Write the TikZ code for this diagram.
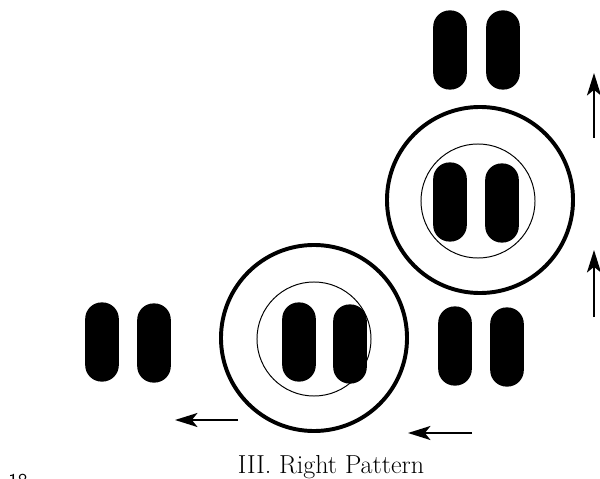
\documentclass[tikz,border=0pt]{standalone}
\usetikzlibrary{positioning,arrows.meta}

\begin{document}
\begin{tikzpicture}[x=0.025cm, y=-0.025cm,
  pill/.style={fill=black, draw=none, rounded corners=0.41cm,
               minimum width=0.84cm, minimum height=1.98cm, inner sep=0pt},
  ring/.style={circle, draw, line width=2.8pt, minimum size=4.65cm, inner sep=0pt},
  core/.style={circle, draw, line width=0.7pt, minimum size=2.85cm, inner sep=0pt},
  arr/.style={-{Stealth[length=16pt, width=10pt, inset=4pt]}, line width=1.1pt},
]
\useasboundingbox (0,0) rectangle (600,479);
\clip (0,0) rectangle (600,479);
% upper group
\node[pill] (topL) at (450,50) {};
\node[pill] (topR) at (503,50) {};
\node[ring] (ringU) at (480,200) {};
\node[core] (coreU) at (478,201) {};
\node[pill] (inUL) at (450,202) {};
\node[pill] (inUR) at (502,203) {};
% lower group
\node[pill] (leftL) at (102,342) {};
\node[pill] (leftR) at (154,343) {};
\node[ring] (ringD) at (314,338) {};
\node[core] (coreD) at (314,339) {};
\node[pill] (inDL) at (299,342) {};
\node[pill] (inDR) at (350,344) {};
\node[pill] (rightL) at (455,346) {};
\node[pill] (rightR) at (507,347) {};
% direction arrows
\coordinate (up1a) at (594,138);  \coordinate (up1b) at (594,73);
\coordinate (up2a) at (594,317);  \coordinate (up2b) at (594,250);
\coordinate (lt1a) at (238,420);  \coordinate (lt1b) at (175,420);
\coordinate (lt2a) at (472,433);  \coordinate (lt2b) at (408,433);
\draw[arr] (up1a) -- (up1b);
\draw[arr] (up2a) -- (up2b);
\draw[arr] (lt1a) -- (lt1b);
\draw[arr] (lt2a) -- (lt2b);
% captions
\node[anchor=base, font=\fontsize{18.5}{20}\selectfont] (title) at (331,473) {III. Right Pattern};
\node[anchor=base west, inner sep=0pt, font=\fontsize{14}{16}\sffamily] (page) at (8,487) {18};
\end{tikzpicture}
\end{document}
